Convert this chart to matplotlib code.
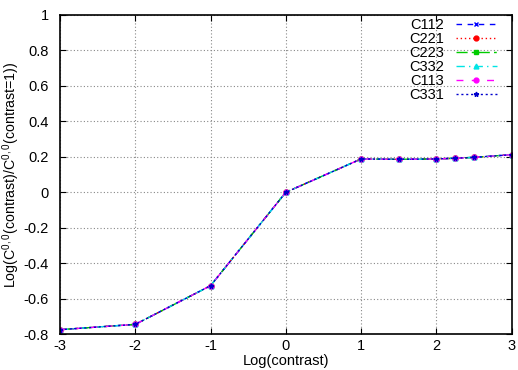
import matplotlib
matplotlib.use("Agg")
import matplotlib.pyplot as plt

plt.rcParams['font.family'] = ['Liberation Sans', 'DejaVu Sans']
plt.rcParams['axes.unicode_minus'] = False
plt.rcParams['mathtext.default'] = 'regular'

# log contrast values
log_contrast = [-3, -2, -1, 0, 1, 1.5, 2, 2.25, 2.5, 3]

# series (all curves overlap)
c112 = [-0.775, -0.745, -0.527, 0.0, 0.188, 0.186, 0.188, 0.192, 0.197, 0.212]
c221 = [-0.775, -0.745, -0.527, 0.0, 0.188, 0.186, 0.188, 0.192, 0.197, 0.212]
c223 = [-0.775, -0.745, -0.527, 0.0, 0.188, 0.186, 0.188, 0.192, 0.197, 0.212]
c332 = [-0.775, -0.745, -0.527, 0.0, 0.188, 0.186, 0.188, 0.192, 0.197, 0.212]
c113 = [-0.775, -0.745, -0.527, 0.0, 0.188, 0.186, 0.188, 0.192, 0.197, 0.212]
c331 = [-0.775, -0.745, -0.527, 0.0, 0.188, 0.186, 0.188, 0.192, 0.197, 0.212]

names = ["C112", "C221", "C223", "C332", "C113", "C331"]
series = [c112, c221, c223, c332, c113, c331]

# gnuplot-like styles
colors = ["#0000ff", "#ff0000", "#00cc00", "#00e5e5", "#ff00ff", "#0000cc"]
styles = [(0, (4, 4)), (0, (1, 2)), (0, (8, 3, 2, 3)), (0, (6, 3, 1, 3)), (0, (5, 6)), (0, (1.5, 2))]
markers = ["x", "o", "s", "^", "o", "*"]

fig = plt.figure(figsize=(5.18, 3.70), dpi=100)
ax = fig.add_axes([0.1158, 0.097, 0.872, 0.8625])

for name, vals, c, ls, m in zip(names, series, colors, styles, markers):
    ax.plot(log_contrast, vals, color=c, linestyle=ls, linewidth=1.0,
            marker=m, markersize=3.5, markeredgewidth=1.0, label=name)

ax.set_xlim(-3, 3)
ax.set_ylim(-0.8, 1)
ax.set_xticks([-3, -2, -1, 0, 1, 2, 3])
ax.set_yticks([-0.8, -0.6, -0.4, -0.2, 0, 0.2, 0.4, 0.6, 0.8, 1])
ax.set_yticklabels(["-0.8", "-0.6", "-0.4", "-0.2", "0", "0.2", "0.4", "0.6", "0.8", "1"])
ax.tick_params(direction="in", top=True, right=True, labelsize=10.5, length=4)
ax.tick_params(axis="y", pad=8)
ax.grid(True, color="#888888", linestyle=(0, (1, 2)), linewidth=0.8)
for s in ax.spines.values():
    s.set_linewidth(1.2)

ax.set_xlabel("Log(contrast)", fontsize=10.5, labelpad=1)
ax.set_ylabel("Log(C$^{0,0}$(contrast)/C$^{0,0}$(contrast=1))", fontsize=10.2)
ax.yaxis.set_label_coords(-0.084, 0.5)

ax.legend(loc="upper right", bbox_to_anchor=(1 - 15 / 452, 1 - 3 / 318),
          frameon=False, markerfirst=False, fontsize=10.5,
          handlelength=2.8, handletextpad=0.8, labelspacing=0.0,
          borderaxespad=0, borderpad=0)

fig.savefig("out.png", dpi=100)
